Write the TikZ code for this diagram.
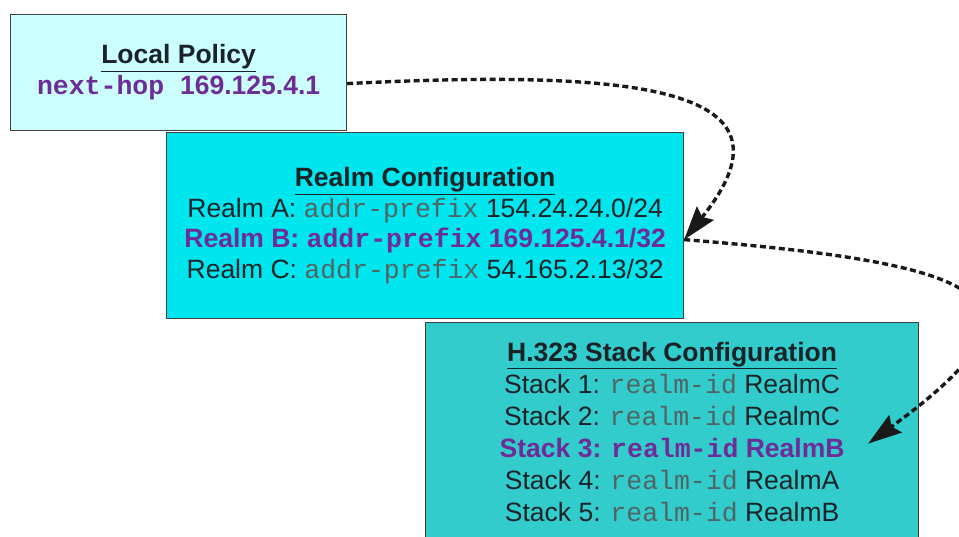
\documentclass[tikz,border=0pt]{standalone}
\usepackage{fontspec}
\setmainfont{Liberation Sans}
\setmonofont{Liberation Mono}
\usepackage{tikz}
\usetikzlibrary{positioning,arrows.meta,calc}
\usepackage{xcolor}
\definecolor{PolicyFill}{RGB}{204,255,255}
\definecolor{RealmFill}{RGB}{0,230,238}
\definecolor{StackFill}{RGB}{51,204,204}
\definecolor{PickPurple}{RGB}{110,45,150}
\definecolor{DarkText}{RGB}{25,35,40}
\definecolor{CmdGray}{RGB}{80,100,102}
\newcommand{\cmd}[1]{{\ttfamily\color{CmdGray}#1}}
\newcommand{\pick}[1]{{\bfseries\color{PickPurple}#1}}
\newcommand{\boxtitle}[1]{\underline{\textbf{#1}}}

\begin{document}
\begin{tikzpicture}[
    x=1pt, y=1pt,
    cfgbox/.style={rectangle, anchor=north west, draw=black!75, line width=1.2pt,
        inner sep=0pt, align=center, text=DarkText},
    hop/.style={-{Stealth[length=34pt, width=22pt, inset=5pt, line width=0pt]}, line width=3.4pt,
        dash pattern=on 6pt off 3.5pt, black!90},
]
\clip (0,0) rectangle (959,-536);

\node[cfgbox, fill=PolicyFill, minimum width=336pt, minimum height=116pt,
    font=\fontsize{26.5pt}{31pt}\selectfont] (policy) at (10,-14)
    {\boxtitle{Local Policy}\\
     \pick{\ttfamily next-hop\ }\pick{169.125.4.1}};

\node[cfgbox, fill=RealmFill, minimum width=517pt, minimum height=186pt,
    font=\fontsize{26.5pt}{30.5pt}\selectfont] (realm) at (166,-132)
    {\boxtitle{Realm Configuration}\\
     Realm A: \cmd{addr-prefix} 154.24.24.0/24\\
     \pick{Realm B: {\ttfamily addr-prefix} 169.125.4.1/32}\\
     Realm C: \cmd{addr-prefix} 54.165.2.13/32};

\node[cfgbox, fill=StackFill, minimum width=493pt, minimum height=218pt,
    font=\fontsize{26.5pt}{32pt}\selectfont] (stack) at (425,-322)
    {\boxtitle{H.323 Stack Configuration}\\
     Stack 1: \cmd{realm-id} RealmC\\
     Stack 2: \cmd{realm-id} RealmC\\
     \pick{Stack 3: {\ttfamily realm-id} RealmB}\\
     Stack 4: \cmd{realm-id} RealmA\\
     Stack 5: \cmd{realm-id} RealmB};

\coordinate (hopout) at ([yshift=-11pt]policy.east);
\coordinate (realmB) at ([yshift=-14pt]realm.east);
\coordinate (stackB) at ([xshift=-51pt, yshift=-12pt]stack.east);

\draw[hop] (hopout) .. controls +(300,15) and +(120,150) .. (realmB);
\draw[hop] (realmB) .. controls +(300,-24) and +(202,147) .. (stackB);
\end{tikzpicture}
\end{document}
